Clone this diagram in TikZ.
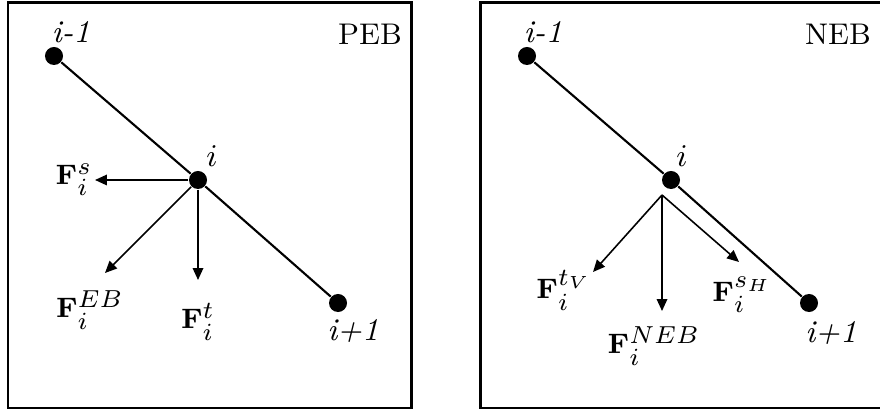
\documentclass[tikz,border=0pt]{standalone}
\usepackage{amsmath,amssymb}
\usetikzlibrary{arrows.meta,positioning}
\DeclareMathSizes{8}{8}{7}{5}

\begin{document}
\begin{tikzpicture}[x=0.01cm, y=-0.01cm,
  every node/.style={font=\fontsize{8.5}{10}\selectfont},
  tag/.style={font=\fontsize{9}{11}\selectfont},
  flabel/.style={font=\fontsize{8}{10}\selectfont, inner sep=1pt},
  frame/.style={draw, line width=0.85pt},
  dot/.style={circle, fill, inner sep=0pt, minimum size=0.18cm},
  band/.style={line width=0.6pt},
  force/.style={-{Triangle[length=3.4pt,width=3pt]}, line width=0.45pt}
]
\useasboundingbox (0,0) rectangle (880,410);
\clip (0,0) rectangle (880,410);

% PEB panel
\draw[frame] (8,3) rectangle (411,408);
\node[dot] (p0) at (54,56) {};
\node[dot] (p1) at (198,180) {};
\node[dot] (p2) at (338,303) {};
\draw[band] (p0) -- (p1) -- (p2);
\node[tag] (lp0) at (71,32) {\textit{i-1}};
\node[tag] (lp1) at (212,156) {$i$};
\node[tag] (lp2) at (353,331) {\textit{i+1}};
\node (peb) at (370,34) {PEB};
\coordinate (fs) at (95,180);
\coordinate (feb) at (105,273);
\coordinate (ft) at (198,280);
\draw[force] (p1) -- (fs);
\draw[force] (p1) -- (feb);
\draw[force] (p1) -- (ft);
\node[flabel] (lfs) at (74,180) {$\mathbf{F}_i^{s}$};
\node[flabel] (lfeb) at (90,310) {$\mathbf{F}_i^{EB}$};
\node[flabel] (lft) at (198,322) {$\mathbf{F}_i^{t}$};

% NEB panel
\draw[frame] (480,3) rectangle (884,408);
\node[dot] (q0) at (527,56) {};
\node[dot] (q1) at (671,180) {};
\node[dot] (q2) at (809,303) {};
\draw[band] (q0) -- (q1) -- (q2);
\node[tag] (lq0) at (543,32) {\textit{i-1}};
\node[tag] (lq1) at (682,156) {$i$};
\node[tag] (lq2) at (831,333) {\textit{i+1}};
\node (neb) at (838,34) {NEB};
\coordinate (qo) at (662,195);
\coordinate (ftv) at (593,272);
\coordinate (fneb) at (662,311);
\coordinate (fsh) at (739,262);
\draw[force] (qo) -- (ftv);
\draw[force] (qo) -- (fneb);
\draw[force] (qo) -- (fsh);
\node[flabel] (lftv) at (564,290) {$\mathbf{F}_i^{t_V}$};
\node[flabel] (lfneb) at (654,346) {$\mathbf{F}_i^{NEB}$};
\node[flabel] (lfsh) at (742,295) {$\mathbf{F}_i^{s_H}$};
\end{tikzpicture}
\end{document}
